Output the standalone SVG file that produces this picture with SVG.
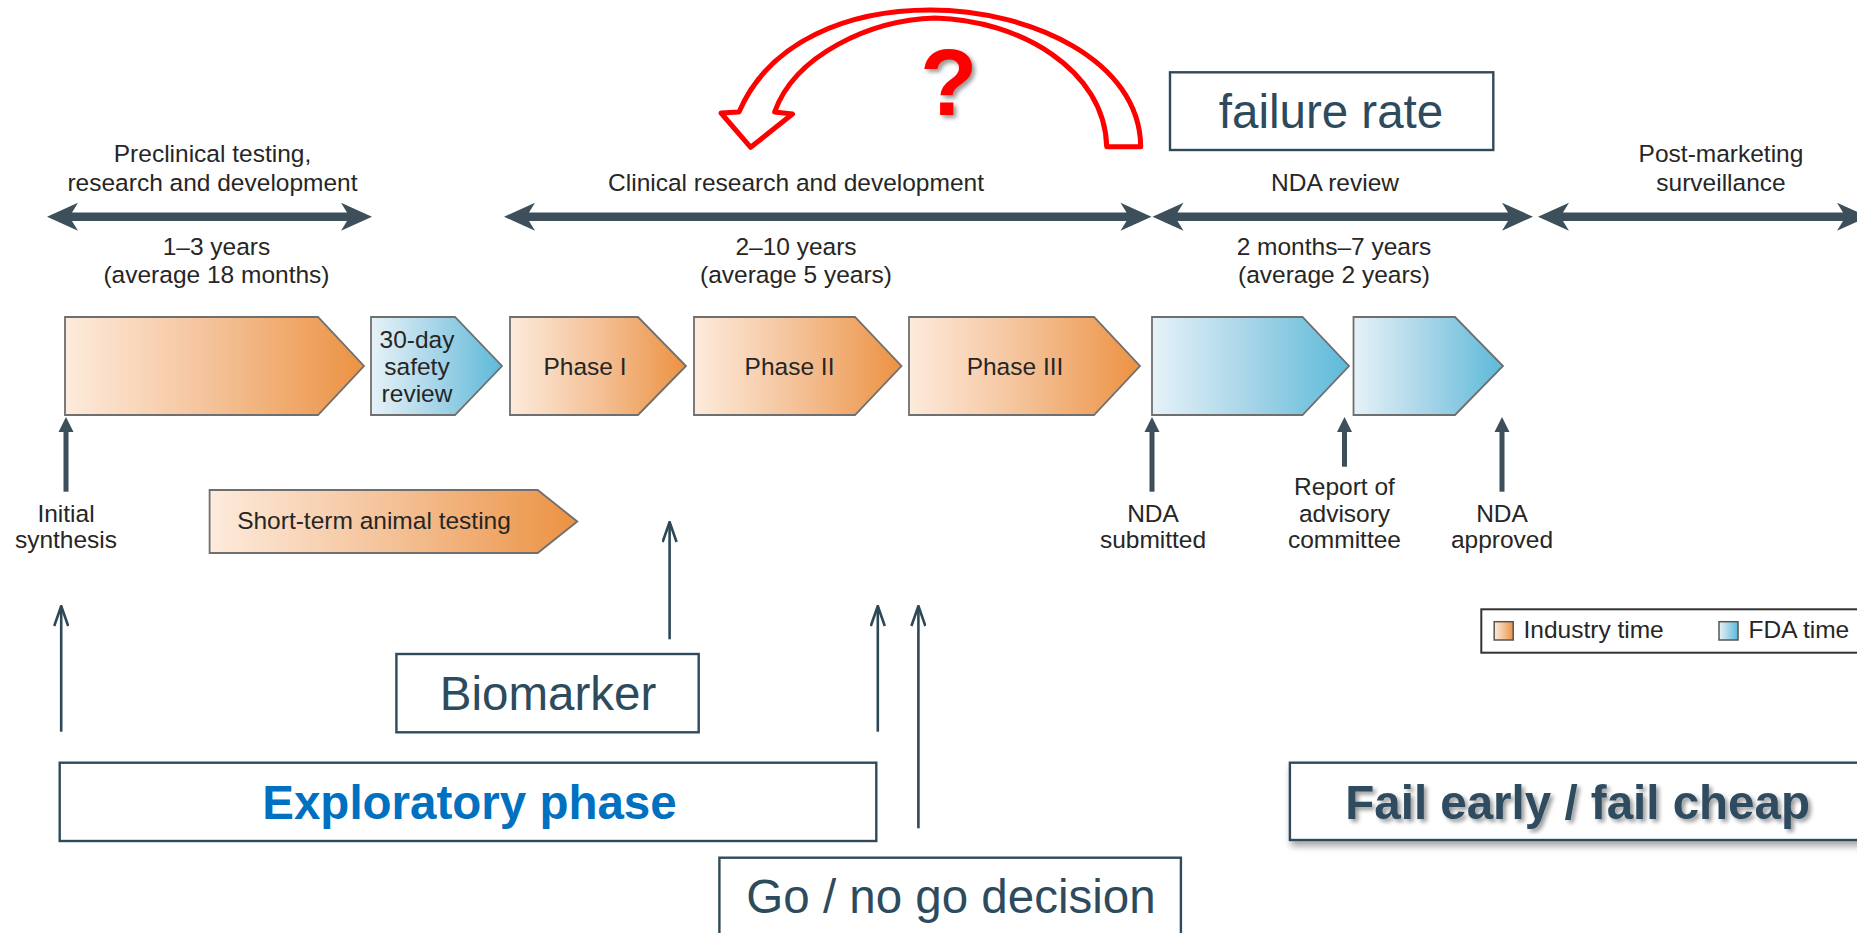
<svg xmlns="http://www.w3.org/2000/svg" width="1857" height="933" viewBox="0 0 1857 933">
<style>
.lbl{font-family:"Liberation Sans",Arial,sans-serif;font-size:24.5px;fill:#262626;text-anchor:middle}
.big{font-family:"Liberation Sans",Arial,sans-serif;font-size:47.5px;fill:#2E4B5E;text-anchor:middle}
.bold{font-weight:bold}
.blk{stroke:#6f6f6f;stroke-width:1.8}
.org{fill:url(#gOrange)}
.blu{fill:url(#gBlue)}
.dark{fill:#3D4F5A}
.thin{stroke:#2F4858;stroke-width:2.6;fill:none;marker-end:url(#openArrow)}
.box{fill:#fff;stroke:#2F4A5A;stroke-width:2.4}
</style>
<defs>
<linearGradient id="gOrange" x1="0" y1="0" x2="1" y2="0">
<stop offset="0" stop-color="#FDEBDC"/>
<stop offset="0.5" stop-color="#F4C197"/>
<stop offset="1" stop-color="#EC9242"/>
</linearGradient>
<linearGradient id="gBlue" x1="0" y1="0" x2="1" y2="0">
<stop offset="0" stop-color="#E6F2F8"/>
<stop offset="0.5" stop-color="#A6D4E8"/>
<stop offset="1" stop-color="#5CBAD9"/>
</linearGradient>
<marker id="openArrow" viewBox="0 0 22 16" refX="21" refY="8" markerUnits="userSpaceOnUse" markerWidth="22" markerHeight="16" orient="auto">
<path d="M1,1 L21,8 L1,15" fill="none" stroke="#2F4858" stroke-width="2.6"/>
</marker>
<filter id="txtShadow" x="-10%" y="-20%" width="125%" height="160%">
<feGaussianBlur in="SourceAlpha" stdDeviation="2"/>
<feOffset dx="3" dy="3" result="o"/>
<feComponentTransfer><feFuncA type="linear" slope="0.4"/></feComponentTransfer>
<feMerge><feMergeNode/><feMergeNode in="SourceGraphic"/></feMerge>
</filter>
<filter id="boxShadow" x="-5%" y="-20%" width="115%" height="160%">
<feGaussianBlur in="SourceAlpha" stdDeviation="3.5"/>
<feOffset dx="2" dy="5"/>
<feComponentTransfer><feFuncA type="linear" slope="0.35"/></feComponentTransfer>
<feMerge><feMergeNode/><feMergeNode in="SourceGraphic"/></feMerge>
</filter>
</defs>
<rect width="1857" height="933" fill="#fff"/>

<g id="timeline-arrows">
<polygon class="dark" points="47,216.7 78,202.7 72,212.5 347,212.5 341,202.7 372,216.7 341,230.7 347,221 72,221 78,230.7"/>
<polygon class="dark" points="504,216.7 535,202.7 529,212.5 1126.5,212.5 1120.5,202.7 1151.5,216.7 1120.5,230.7 1126.5,221 529,221 535,230.7"/>
<polygon class="dark" points="1152.5,216.7 1183.5,202.7 1177.5,212.5 1508,212.5 1502,202.7 1533,216.7 1502,230.7 1508,221 1177.5,221 1183.5,230.7"/>
<polygon class="dark" points="1538,216.7 1569,202.7 1563,212.5 1843,212.5 1837,202.7 1868,216.7 1837,230.7 1843,221 1563,221 1569,230.7"/>
</g>

<g id="header-labels">
<text class="lbl" x="212.5" y="162">Preclinical testing,</text>
<text class="lbl" x="212.5" y="190.5">research and development</text>
<text class="lbl" x="796" y="190.5">Clinical research and development</text>
<text class="lbl" x="1335" y="190.5">NDA review</text>
<text class="lbl" x="1721" y="162">Post-marketing</text>
<text class="lbl" x="1721" y="190.5">surveillance</text>
<text class="lbl" x="216.5" y="255">1–3 years</text>
<text class="lbl" x="216.5" y="282.5">(average 18 months)</text>
<text class="lbl" x="796" y="255">2–10 years</text>
<text class="lbl" x="796" y="282.5">(average 5 years)</text>
<text class="lbl" x="1334" y="255">2 months–7 years</text>
<text class="lbl" x="1334" y="282.5">(average 2 years)</text>
</g>

<g id="preclinical-block"><path class="blk org" d="M65,317 L318,317 L364,366 L318,415 L65,415 Z"/></g>
<g id="safety-review"><path class="blk blu" d="M371,317 L455,317 L502,366 L455,415 L371,415 Z"/>
<text class="lbl" x="417" y="348">30-day</text><text class="lbl" x="417" y="375">safety</text><text class="lbl" x="417" y="401.7">review</text></g>
<g id="phase1"><path class="blk org" d="M510,317 L638,317 L686,366 L638,415 L510,415 Z"/><text class="lbl" x="585" y="375">Phase I</text></g>
<g id="phase2"><path class="blk org" d="M694,317 L855,317 L901.5,366 L855,415 L694,415 Z"/><text class="lbl" x="789.5" y="375">Phase II</text></g>
<g id="phase3"><path class="blk org" d="M909,317 L1094,317 L1140,366 L1094,415 L909,415 Z"/><text class="lbl" x="1015" y="375">Phase III</text></g>
<g id="nda-block1"><path class="blk blu" d="M1152,317 L1302.5,317 L1349,366 L1302.5,415 L1152,415 Z"/></g>
<g id="nda-block2"><path class="blk blu" d="M1353.5,317 L1455,317 L1503,366 L1455,415 L1353.5,415 Z"/></g>
<g id="animal-testing"><path class="blk org" d="M209.6,490 L537.7,490 L577.3,521.5 L537.7,553 L209.6,553 Z"/><text class="lbl" x="374" y="528.5">Short-term animal testing</text></g>

<g id="milestones">
<g id="initial-synthesis"><rect class="dark" x="63.5" y="428" width="5" height="63.7"/><polygon class="dark" points="66,417 73.5,432 58.5,432"/>
<text class="lbl" x="66" y="521.7">Initial</text><text class="lbl" x="66" y="548.3">synthesis</text></g>
<g id="nda-submitted"><rect class="dark" x="1149.5" y="428" width="5" height="63.7"/><polygon class="dark" points="1152,417 1159.5,432 1144.5,432"/>
<text class="lbl" x="1153" y="521.7">NDA</text><text class="lbl" x="1153" y="548.3">submitted</text></g>
<g id="advisory-report"><rect class="dark" x="1342" y="428" width="5" height="38.7"/><polygon class="dark" points="1344.5,417 1352,432 1337,432"/>
<text class="lbl" x="1344.5" y="495">Report of</text><text class="lbl" x="1344.5" y="521.7">advisory</text><text class="lbl" x="1344.5" y="548.3">committee</text></g>
<g id="nda-approved"><rect class="dark" x="1499.5" y="428" width="5" height="63.7"/><polygon class="dark" points="1502,417 1509.5,432 1494.5,432"/>
<text class="lbl" x="1502" y="521.7">NDA</text><text class="lbl" x="1502" y="548.3">approved</text></g>
</g>

<g id="legend">
<rect x="1481.3" y="609.3" width="400" height="43.4" fill="#fff" stroke="#333" stroke-width="2"/>
<rect x="1494.2" y="621.7" width="19" height="18.3" fill="url(#gOrange)" stroke="#555" stroke-width="1.5"/>
<text class="lbl" x="1523.5" y="638.3" style="text-anchor:start">Industry time</text>
<rect x="1719" y="621.7" width="19" height="18.3" fill="url(#gBlue)" stroke="#555" stroke-width="1.5"/>
<text class="lbl" x="1748.5" y="638.3" style="text-anchor:start">FDA time</text>
</g>

<g id="connectors">
<line class="thin" x1="61.2" y1="731.7" x2="61.2" y2="606"/>
<line class="thin" x1="669.6" y1="639.3" x2="669.6" y2="522"/>
<line class="thin" x1="877.8" y1="731.7" x2="877.8" y2="606"/>
<line class="thin" x1="918.4" y1="828.3" x2="918.4" y2="606"/>
<path id="loop-arrow" d="M1140.7,146.7 C1140,60 1030,10 930,10 C850,10 770,40 739,112 L721,113 L750.7,147.3 L792.5,114 L774.6,112 C795,55 870,20 935,18 C1020,20 1105,70 1106.7,146.7 Z" fill="#fff" stroke="#FF0000" stroke-width="5" stroke-linejoin="round"/>
</g>

<g id="question"><text x="948.7" y="115" font-family="'Liberation Sans',Arial,sans-serif" font-size="94" font-weight="bold" fill="#FF0000" text-anchor="middle" filter="url(#txtShadow)">?</text></g>

<g id="failure-rate"><rect class="box" x="1170" y="72.3" width="323.3" height="77.7"/><text class="big" x="1331" y="128.3">failure rate</text></g>
<g id="biomarker"><rect class="box" x="396.4" y="654" width="302.3" height="78.3"/><text class="big" x="548" y="710">Biomarker</text></g>
<g id="exploratory"><rect class="box" x="59.7" y="762.7" width="816.6" height="78.3"/><text class="big bold" x="469.5" y="819.3" style="fill:#0070C0">Exploratory phase</text></g>
<g id="go-no-go"><rect class="box" x="719.4" y="857.7" width="461.5" height="100"/><text class="big" x="951" y="913.3">Go / no go decision</text></g>
<g id="fail-early"><rect class="box" x="1289.9" y="762.7" width="600" height="77.3" filter="url(#boxShadow)"/><text class="big bold" x="1577.6" y="819.3" filter="url(#txtShadow)">Fail early / fail cheap</text></g>
</svg>
